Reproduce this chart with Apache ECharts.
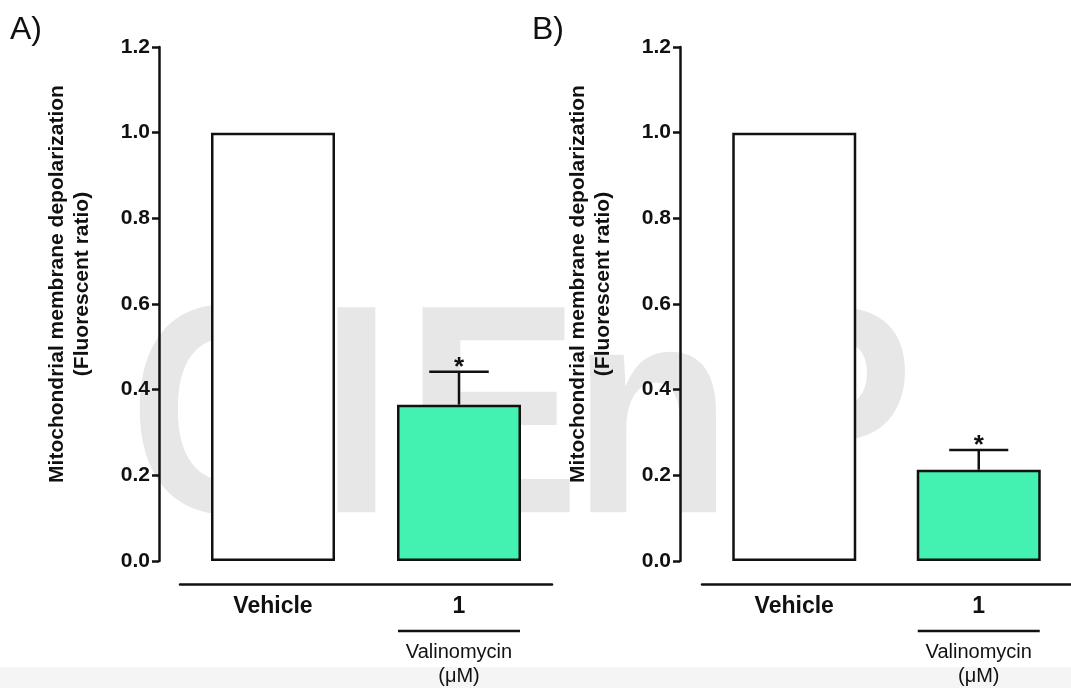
<!DOCTYPE html>
<html>
<head>
<meta charset="utf-8">
<script src="https://cdn.jsdelivr.net/npm/echarts@6/dist/echarts.min.js"></script>
<style>
  html, body { margin: 0; padding: 0; background: #fff; }
  #chart { width: 1071px; height: 688px; }
</style>
</head>
<body>
<div id="chart"></div>
<script>
// two panels, same layout: vehicle vs valinomycin 1 uM
const categories = ['Vehicle', '1']
const subLabels = [[], ['Valinomycin', '(μM)']]
const meanA = [1.0, 0.365]
const semA = [0, 0.077]
const meanB = [1.0, 0.213]
const semB = [0, 0.046]
const marks = ['', '*']
const panelTitles = ['A)', 'B)']
const yTitle = 'Mitochondrial membrane depolarization\n(Fluorescent ratio)'
const watermark = ['C', 'I', 'E', 'n', 'P']

const FONT = '"Liberation Sans", Arial, sans-serif'
const BAR_FILL = ['#ffffff', '#43f1b1']
const INK = '#111'

const chart = echarts.init(document.getElementById('chart'))

function xAxisFor(gridIndex) {
  return {
    type: 'category',
    gridIndex,
    data: categories,
    offset: 23,
    axisLine: { onZero: false, lineStyle: { color: INK, width: 2.5 } },
    axisTick: { length: 6, alignWithLabel: true, lineStyle: { color: INK, width: 2.5 } },
    axisLabel: {
      margin: 8,
      interval: 0,
      formatter: (v, i) => {
        let s = '{a|' + v + '}'
        if (subLabels[i].length) s += '\n{line| }\n' + subLabels[i].map(t => '{b|' + t + '}').join('\n')
        return s
      },
      rich: {
        a: { fontFamily: FONT, fontWeight: 'bold', fontSize: 23, lineHeight: 30, color: INK },
        line: { width: 122, height: 2.5, lineHeight: 18, backgroundColor: INK },
        b: { fontFamily: FONT, fontSize: 20, lineHeight: 24, color: INK }
      }
    }
  }
}

function yAxisFor(gridIndex, off) {
  return {
    type: 'value',
    gridIndex,
    min: 0,
    max: 1.2,
    interval: 0.2,
    offset: off,
    name: yTitle,
    nameLocation: 'middle',
    nameGap: 64,
    nameTextStyle: {
      fontFamily: FONT, fontWeight: 'bold', fontSize: 21, lineHeight: 25, color: INK,
      padding: [0, 0, 0, 40]
    },
    axisLine: { show: true, lineStyle: { color: INK, width: 2.5 } },
    axisTick: { show: true, length: 7, lineStyle: { color: INK, width: 2.5 } },
    axisLabel: {
      margin: 9,
      fontFamily: FONT, fontWeight: 'bold', fontSize: 21, color: INK,
      formatter: v => v.toFixed(1)
    },
    splitLine: { show: false }
  }
}

function barSeries(idx, means) {
  return {
    type: 'bar',
    xAxisIndex: idx,
    yAxisIndex: idx,
    barWidth: 124,
    z: 3,
    data: means.map((m, i) => ({
      value: m,
      itemStyle: { color: BAR_FILL[i], borderColor: INK, borderWidth: 2.5 }
    }))
  }
}

function errSeries(idx, means, sems) {
  return {
    type: 'custom',
    xAxisIndex: idx,
    yAxisIndex: idx,
    z: 4,
    data: means.map((m, i) => [i, m, sems[i], i]),
    renderItem: (params, api) => {
      const e = api.value(2)
      if (!e) return null
      const x = api.value(0), m = api.value(1)
      const base = api.coord([x, m])
      const top = api.coord([x, m + e])
      const half = api.size([1, 0])[0] * 0.16
      const ls = { stroke: INK, lineWidth: 2.5 }
      return {
        type: 'group',
        children: [
          { type: 'line', shape: { x1: base[0], y1: base[1], x2: top[0], y2: top[1] }, style: ls },
          { type: 'line', shape: { x1: top[0] - half, y1: top[1], x2: top[0] + half, y2: top[1] }, style: ls },
          {
            type: 'text',
            style: {
              x: top[0], y: top[1] + 9, text: marks[api.value(3)],
              textAlign: 'center', textVerticalAlign: 'bottom',
              font: 'bold 26px ' + FONT, fill: INK
            }
          }
        ]
      }
    }
  }
}

// watermark letters, placed by hand behind the plots
const wmX = [129, 320, 405, 572, 739]
const wmElements = watermark.map((ch, i) => ({
  type: 'text',
  x: wmX[i],
  y: 430,
  scaleX: 0.88,
  z: -10,
  silent: true,
  style: {
    text: ch,
    font: 'bold 298px ' + FONT,
    fill: '#e7e7e7',
    textAlign: 'left',
    textVerticalAlign: 'middle'
  }
}))

chart.setOption({
  animation: false,
  backgroundColor: '#fff',
  graphic: {
    elements: [
      { type: 'rect', shape: { x: 0, y: 667, width: 1071, height: 21 }, style: { fill: '#f5f5f5' }, z: -20, silent: true },
      ...wmElements,
      { type: 'text', x: 10, y: 14, style: { text: panelTitles[0], font: '32px ' + FONT, fill: INK } },
      { type: 'text', x: 532, y: 14, style: { text: panelTitles[1], font: '32px ' + FONT, fill: INK } }
    ]
  },
  grid: [
    { left: 180, top: 47, width: 372, height: 514 },
    { left: 702, top: 47, width: 370, height: 514 }
  ],
  xAxis: [xAxisFor(0), xAxisFor(1)],
  yAxis: [yAxisFor(0, 21), yAxisFor(1, 22)],
  series: [
    barSeries(0, meanA), errSeries(0, meanA, semA),
    barSeries(1, meanB), errSeries(1, meanB, semB)
  ]
})
</script>
</body>
</html>
